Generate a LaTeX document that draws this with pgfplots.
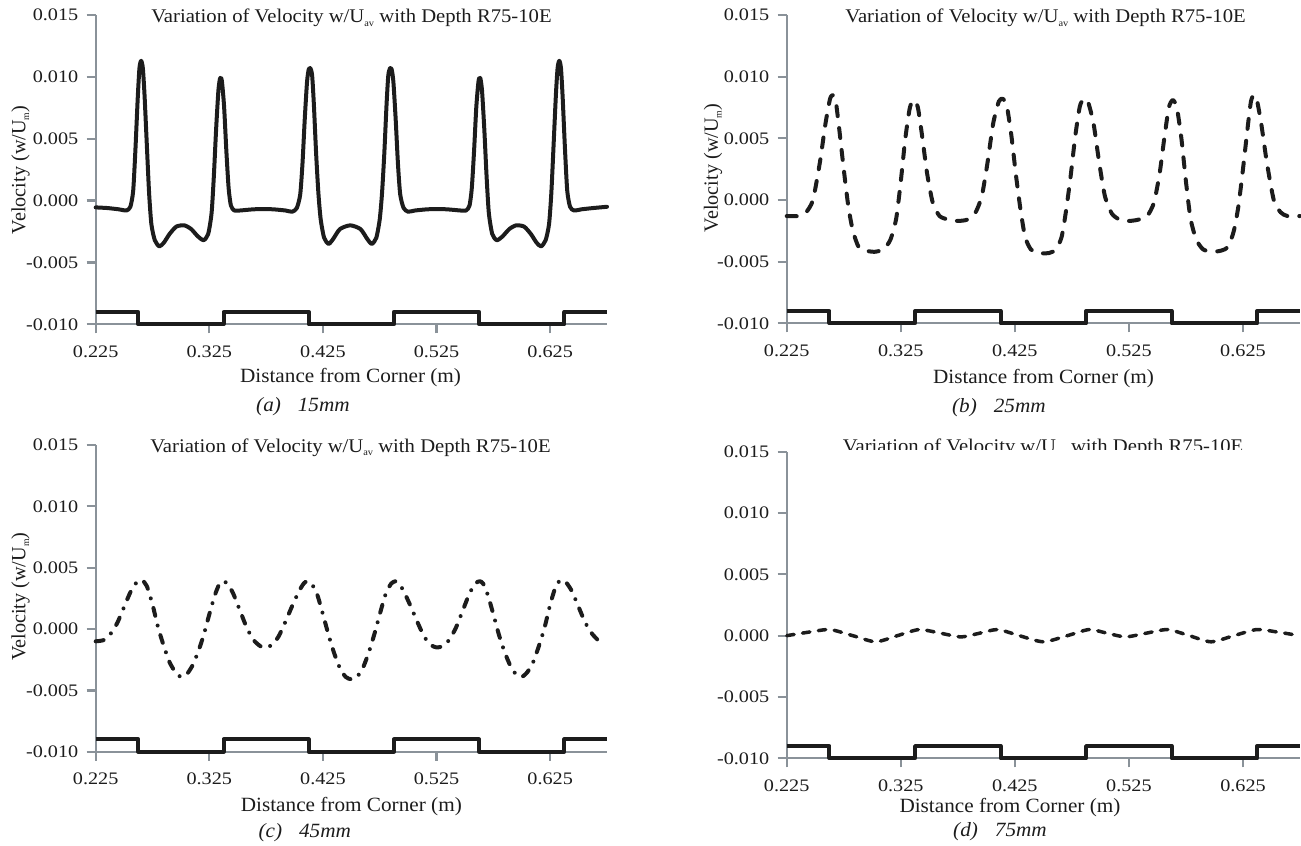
\documentclass[border=0pt]{standalone}
\usepackage{fontspec}
\setmainfont{Liberation Serif}
\usepackage{pgfplots}
\pgfplotsset{compat=1.18}

\definecolor{axgray}{RGB}{138,146,153}
\definecolor{ink}{RGB}{28,28,28}
\newcommand\tickfont{\fontsize{10}{12}\selectfont}
\newcommand\labfont{\fontsize{11.5}{13}\selectfont}
\newcommand\ttlfont{\fontsize{11}{13}\selectfont}
\newcommand\sub[1]{\raisebox{-0.4ex}{\fontsize{5.5}{6}\selectfont #1}}
\newcommand\ttl{Variation of Velocity w/U\sub{av} with Depth R75-10E}

\tikzset{subcap/.style={font=\labfont\itshape, text=ink, xscale=1.05}}

\pgfplotsset{
  panel/.style={
    scale only axis, anchor=south west, clip=false,
    xmin=0.225, xmax=0.675, ymin=-0.010, ymax=0.015,
    axis x line=bottom, axis y line=left,
    axis line style={draw=axgray, line width=0.45mm, -},
    tick align=outside, major tick length=1.8mm,
    tick style={draw=axgray, line width=0.45mm},
    xtick={0.225,0.325,0.425,0.525,0.625},
    xticklabels={\textrm{0.225},\textrm{0.325},\textrm{0.425},\textrm{0.525},\textrm{0.625}},
    ytick={-0.010,-0.005,0,0.005,0.010,0.015},
    yticklabels={\textrm{-0.010},\textrm{-0.005},\textrm{0.000},\textrm{0.005},\textrm{0.010},\textrm{0.015}},
    scaled ticks=false,
    ticklabel style={font=\tickfont, text=ink, xscale=1.15},
    xticklabel style={inner sep=2.4mm},
    yticklabel style={inner sep=1.4mm},
    title style={font=\ttlfont, text=ink, anchor=base west, inner sep=0pt, xscale=1.07, yshift=-6pt},
    xlabel style={font=\labfont, text=ink, anchor=center, xscale=1.05},
    ylabel style={font=\labfont, text=ink, anchor=center},
  },
  steps/.style={const plot, draw=ink, line width=0.8mm, line join=round},
  curve/.style={draw=ink, line width=0.8mm, line join=round, line cap=round, smooth, tension=0.4},
}

% plate position marker (same in every panel)
\newcommand\platesteps{\addplot[steps] coordinates {(0.225,-0.009) (0.2625,-0.010) (0.3375,-0.009) (0.4125,-0.010) (0.4875,-0.009) (0.5625,-0.010) (0.6375,-0.009) (0.675,-0.009)};}

\begin{document}
\begin{tikzpicture}
\useasboundingbox (0,0) rectangle (260.2mm,-169mm);

% (a) 15mm
\begin{axis}[panel, at={(19.14mm,-64.86mm)}, width=102.26mm, height=61.86mm,
    title={\ttl}, title style={at={(rel axis cs:0.108,0.975)}},
    xlabel={Distance from Corner (m)}, xlabel style={at={(rel axis cs:0.4985,-0.1736)}},
    ylabel={Velocity (w/U\sub{m})}, ylabel style={at={(rel axis cs:-0.1469,0.499)}}]
\platesteps
\addplot[curve] coordinates {
(0.225,-0.00055) (0.235,-0.0006) (0.245,-0.0007) (0.252,-0.0008) (0.2555,-0.0005)
(0.258,0.0008) (0.260,0.0042) (0.262,0.0083) (0.2635,0.0107) (0.265,0.0113)
(0.2665,0.0107) (0.268,0.0085) (0.270,0.0045) (0.272,0.0006) (0.274,-0.0019)
(0.277,-0.0032) (0.281,-0.0037) (0.285,-0.0034) (0.290,-0.0027) (0.296,-0.0021)
(0.303,-0.0020) (0.309,-0.0023) (0.315,-0.0029) (0.320,-0.0032) (0.324,-0.0027)
(0.327,-0.0010) (0.329,0.0020) (0.331,0.0058) (0.333,0.0089) (0.3345,0.0099)
(0.336,0.0097) (0.338,0.0076) (0.340,0.0040) (0.342,0.0010) (0.344,-0.0004)
(0.347,-0.0008) (0.352,-0.0008) (0.365,-0.0007) (0.380,-0.0007) (0.392,-0.0008)
(0.398,-0.0009) (0.402,-0.0006) (0.405,0.0005) (0.407,0.0030) (0.409,0.0066)
(0.411,0.0096) (0.4125,0.0106) (0.414,0.0107) (0.4155,0.0101) (0.417,0.0078)
(0.419,0.0038) (0.421,0.0006) (0.423,-0.0015) (0.426,-0.0030) (0.430,-0.0035)
(0.434,-0.0031) (0.440,-0.0023) (0.449,-0.0020) (0.458,-0.0023) (0.464,-0.0031)
(0.468,-0.0035) (0.472,-0.0030) (0.475,-0.0015) (0.477,0.0006) (0.479,0.0038)
(0.481,0.0078) (0.4825,0.0101) (0.484,0.0107) (0.4855,0.0106) (0.487,0.0096)
(0.489,0.0066) (0.491,0.0030) (0.493,0.0005) (0.496,-0.0006) (0.500,-0.0009)
(0.506,-0.0008) (0.518,-0.0007) (0.533,-0.0007) (0.546,-0.0008) (0.551,-0.0008)
(0.554,-0.0004) (0.556,0.0010) (0.558,0.0040) (0.560,0.0076) (0.562,0.0097)
(0.5635,0.0099) (0.565,0.0089) (0.567,0.0058) (0.569,0.0020) (0.571,-0.0010)
(0.574,-0.0027) (0.578,-0.0032) (0.583,-0.0029) (0.589,-0.0023) (0.595,-0.0020)
(0.602,-0.0021) (0.608,-0.0027) (0.613,-0.0034) (0.617,-0.0037) (0.621,-0.0032)
(0.624,-0.0019) (0.626,0.0006) (0.628,0.0045) (0.630,0.0085) (0.6315,0.0107)
(0.633,0.0113) (0.6345,0.0107) (0.636,0.0083) (0.638,0.0042) (0.640,0.0008)
(0.6425,-0.0005) (0.646,-0.0008) (0.653,-0.0007) (0.663,-0.0006) (0.675,-0.0005)};
\node[subcap] at (rel axis cs:0.4054,-0.2674) {(a)\hspace{0.8em}15mm};
\end{axis}

% (b) 25mm
\begin{axis}[panel, at={(157.34mm,-64.66mm)}, width=102.66mm, height=61.66mm,
    title={\ttl}, title style={at={(rel axis cs:0.1136,0.975)}},
    xlabel={Distance from Corner (m)}, xlabel style={at={(rel axis cs:0.5003,-0.1807)}},
    ylabel={Velocity (w/U\sub{m})}, ylabel style={at={(rel axis cs:-0.1436,0.5037)}}]
\platesteps
\addplot[curve, dash pattern=on 2mm off 2.4mm] coordinates {
(0.225,-0.0013) (0.236,-0.0013) (0.242,-0.0010) (0.248,0.0000) (0.254,0.0030)
(0.259,0.0062) (0.263,0.0082) (0.2655,0.0085) (0.268,0.0080) (0.271,0.0058)
(0.275,0.0025) (0.279,-0.0005) (0.283,-0.0025) (0.288,-0.0038) (0.294,-0.0041)
(0.302,-0.0042) (0.310,-0.0040) (0.316,-0.0032) (0.321,-0.0015) (0.325,0.0015)
(0.329,0.0050) (0.333,0.0075) (0.3365,0.0081) (0.340,0.0075) (0.344,0.0050)
(0.348,0.0022) (0.353,-0.0002) (0.359,-0.0013) (0.367,-0.0016) (0.375,-0.0017)
(0.383,-0.0016) (0.390,-0.0011) (0.396,0.0003) (0.401,0.0030) (0.406,0.0062)
(0.411,0.0080) (0.4145,0.0082) (0.418,0.0076) (0.422,0.0052) (0.426,0.0020)
(0.430,-0.0008) (0.434,-0.0030) (0.439,-0.0040) (0.445,-0.0043) (0.455,-0.0043)
(0.461,-0.0040) (0.466,-0.0030) (0.470,-0.0008) (0.474,0.0020) (0.478,0.0052)
(0.482,0.0076) (0.4855,0.0082) (0.489,0.0080) (0.494,0.0062) (0.499,0.0030)
(0.504,0.0003) (0.510,-0.0011) (0.517,-0.0016) (0.525,-0.0017) (0.533,-0.0016)
(0.541,-0.0013) (0.547,-0.0002) (0.552,0.0022) (0.556,0.0050) (0.560,0.0075)
(0.5635,0.0081) (0.567,0.0075) (0.571,0.0050) (0.575,0.0015) (0.579,-0.0015)
(0.584,-0.0032) (0.590,-0.0040) (0.598,-0.0042) (0.606,-0.0041) (0.612,-0.0038)
(0.617,-0.0025) (0.621,-0.0005) (0.625,0.0025) (0.629,0.0058) (0.632,0.0080)
(0.6345,0.0085) (0.637,0.0082) (0.641,0.0062) (0.646,0.0030) (0.652,0.0000)
(0.658,-0.0010) (0.664,-0.0013) (0.675,-0.0013)};
\node[subcap] at (rel axis cs:0.4134,-0.2747) {(b)\hspace{0.8em}25mm};
\end{axis}

% (c) 45mm
\begin{axis}[panel, at={(19.14mm,-150.34mm)}, width=102.26mm, height=61.34mm,
    title={\ttl}, title style={at={(rel axis cs:0.106,0.977)}},
    xlabel={Distance from Corner (m)}, xlabel style={at={(rel axis cs:0.5,-0.1793)}},
    ylabel={Velocity (w/U\sub{m})}, ylabel style={at={(rel axis cs:-0.147,0.505)}}]
\platesteps
\addplot[curve, dash pattern=on 1.6mm off 2mm on 0mm off 2mm] coordinates {
(0.225,-0.0010) (0.232,-0.0009) (0.238,-0.0004) (0.244,0.0005) (0.250,0.0018)
(0.256,0.0031) (0.261,0.0038) (0.2655,0.0040) (0.270,0.0035) (0.275,0.0020)
(0.280,0.0001) (0.285,-0.0014) (0.290,-0.0027) (0.295,-0.0035) (0.300,-0.0039)
(0.305,-0.0037) (0.310,-0.0030) (0.315,-0.0019) (0.320,-0.0005) (0.325,0.0012)
(0.330,0.0028) (0.334,0.0037) (0.337,0.0039) (0.341,0.0037) (0.346,0.0029)
(0.352,0.0015) (0.358,0.0001) (0.364,-0.0009) (0.370,-0.0014) (0.375,-0.0015)
(0.380,-0.0013) (0.386,-0.0006) (0.392,0.0006) (0.398,0.0019) (0.404,0.0031)
(0.408,0.0037) (0.411,0.0039) (0.415,0.0037) (0.420,0.0028) (0.425,0.0012)
(0.430,-0.0005) (0.435,-0.0020) (0.440,-0.0032) (0.445,-0.0039) (0.450,-0.0041)
(0.455,-0.0039) (0.460,-0.0032) (0.465,-0.0020) (0.470,-0.0005) (0.475,0.0012)
(0.480,0.0028) (0.485,0.0037) (0.489,0.0039) (0.492,0.0037) (0.496,0.0031)
(0.502,0.0019) (0.508,0.0006) (0.514,-0.0006) (0.520,-0.0013) (0.525,-0.0015)
(0.530,-0.0014) (0.536,-0.0009) (0.542,0.0001) (0.548,0.0015) (0.554,0.0029)
(0.559,0.0037) (0.563,0.0039) (0.566,0.0037) (0.570,0.0028) (0.575,0.0012)
(0.580,-0.0005) (0.585,-0.0019) (0.590,-0.0030) (0.595,-0.0037) (0.600,-0.0039)
(0.605,-0.0035) (0.610,-0.0027) (0.615,-0.0014) (0.620,0.0001) (0.625,0.0020)
(0.630,0.0035) (0.6345,0.0040) (0.639,0.0038) (0.644,0.0031) (0.650,0.0018)
(0.656,0.0005) (0.662,-0.0004) (0.667,-0.0009)};
\node[subcap] at (rel axis cs:0.409,-0.265) {(c)\hspace{0.8em}45mm};
\end{axis}

% (d) 75mm
\begin{axis}[panel, at={(157.34mm,-151.66mm)}, width=102.66mm, height=61.32mm,
    xlabel={Distance from Corner (m)}, xlabel style={at={(rel axis cs:0.435,-0.159)}}]
\platesteps
\addplot[curve, line width=0.7mm, dash pattern=on 1.5mm off 1.7mm] coordinates {
(0.225,0.0000) (0.245,0.0003) (0.263,0.0005) (0.283,0.0000) (0.303,-0.0005)
(0.322,0.0000) (0.341,0.0005) (0.360,0.0002) (0.378,-0.0001) (0.394,0.0002)
(0.410,0.0005) (0.429,0.0000) (0.450,-0.0005) (0.471,0.0000) (0.490,0.0005)
(0.506,0.0002) (0.522,-0.0001) (0.540,0.0002) (0.559,0.0005) (0.578,0.0000)
(0.597,-0.0005) (0.617,0.0000) (0.637,0.0005) (0.655,0.0003) (0.675,0.0000)};
\node[subcap] at (rel axis cs:0.4155,-0.2394) {(d)\hspace{0.8em}75mm};
\end{axis}

% title of (d) is cut off at its foot in the original
\begin{scope}
\clip (150mm,-84mm) rectangle (262mm,-89.86mm);
\node[font=\ttlfont, text=ink, anchor=base west, inner sep=0pt, xscale=1.07] at (168.52mm,-90.4mm) {\ttl};
\end{scope}
\end{tikzpicture}
\end{document}
